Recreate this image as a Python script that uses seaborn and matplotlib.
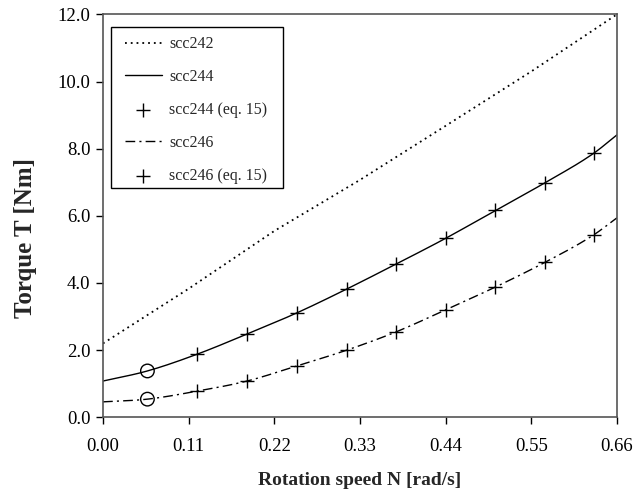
import matplotlib
matplotlib.use("Agg")
import matplotlib.pyplot as plt
import matplotlib.patches as mpatches
import seaborn as sns
import pandas as pd
import numpy as np

# ---- data ----
x_242 = [0.0, 0.11, 0.22, 0.33, 0.44, 0.55, 0.66]
y_242 = [2.2, 3.83, 5.55, 7.07, 8.68, 10.30, 12.0]

x_eq = [0.121, 0.185, 0.249, 0.313, 0.376, 0.440, 0.504, 0.568, 0.630]
y_244_eq = [1.88, 2.48, 3.11, 3.82, 4.56, 5.33, 6.16, 6.99, 7.86]
y_246_eq = [0.78, 1.08, 1.53, 2.00, 2.54, 3.20, 3.88, 4.62, 5.43]

x_circ = [0.057]
y_244_circ = [1.38]
y_246_circ = [0.54]

x_curve = [0.0, 0.057] + x_eq + [0.66]
y_244_curve = [1.08, 1.38] + y_244_eq + [8.41]
y_246_curve = [0.46, 0.54] + y_246_eq + [5.94]

x_ticks = [0.00, 0.11, 0.22, 0.33, 0.44, 0.55, 0.66]
y_ticks = [0.0, 2.0, 4.0, 6.0, 8.0, 10.0, 12.0]

# ---- style ----
sns.set_style("ticks")
plt.rcParams['font.family'] = ['Liberation Serif', 'DejaVu Serif']

fig = plt.figure(figsize=(6.44, 4.95), dpi=100)
ax = fig.add_axes([0.16, 0.157, 0.798, 0.814])

def smooth(xs, ys, n=200):
    xs = np.asarray(xs); ys = np.asarray(ys)
    xx = np.linspace(xs.min(), xs.max(), n)
    h = np.diff(xs); d = np.diff(ys) / h
    m = np.zeros_like(ys)
    m[1:-1] = (d[:-1] + d[1:]) / 2
    m[0] = d[0]; m[-1] = d[-1]
    idx = np.clip(np.searchsorted(xs, xx) - 1, 0, len(xs) - 2)
    t = (xx - xs[idx]) / h[idx]
    h00 = 2*t**3 - 3*t**2 + 1; h10 = t**3 - 2*t**2 + t
    h01 = -2*t**3 + 3*t**2; h11 = t**3 - t**2
    yy = h00*ys[idx] + h10*h[idx]*m[idx] + h01*ys[idx+1] + h11*h[idx]*m[idx+1]
    return xx, yy

lw = 1.0
df242 = pd.DataFrame({"x": x_242, "y": y_242})
sns.lineplot(data=df242, x="x", y="y", ax=ax, color="black", lw=1.3,
             linestyle=(0, (1, 2.2)), label="scc242", sort=True)

sx, sy = smooth(x_curve, y_244_curve)
sns.lineplot(x=sx, y=sy, ax=ax, color="black", lw=lw, label="scc244", sort=True)
sns.scatterplot(x=x_eq, y=y_244_eq, ax=ax, marker="+", s=110, color="black",
                linewidth=1.0, label="scc244 (eq. 15)")

sx, sy = smooth(x_curve, y_246_curve)
sns.lineplot(x=sx, y=sy, ax=ax, color="black", lw=lw,
             linestyle=(0, (7, 3, 1.5, 3)), label="scc246", sort=True)
sns.scatterplot(x=x_eq, y=y_246_eq, ax=ax, marker="+", s=110, color="black",
                linewidth=1.0, label="scc246 (eq. 15)")

for yc in (y_244_circ, y_246_circ):
    ax.scatter(x_circ, yc, s=95, facecolors="none", edgecolors="black",
               linewidths=1.0, zorder=5)

ax.set_xlim(0, 0.66)
ax.set_ylim(0, 12)
ax.set_xticks(x_ticks)
ax.set_xticklabels([f"{v:.2f}" for v in x_ticks])
ax.set_yticks(y_ticks)
ax.set_yticklabels([f"{v:.1f}" for v in y_ticks])
ax.tick_params(axis="both", direction="out", length=5, width=1, labelsize=13.5,
               colors="black")
ax.tick_params(axis="x", pad=10)
ax.tick_params(axis="y", pad=4)
for s in ax.spines.values():
    s.set_visible(True)
    s.set_color("#555555")
    s.set_linewidth(1.2)

ax.set_xlabel("Rotation speed N [rad/s]", fontsize=14, fontweight="bold", labelpad=12)
ax.set_ylabel("Torque T [Nm]", fontsize=18, fontweight="bold")
ax.yaxis.set_label_coords(-0.128, 0.445)

# legend (frameless) + its own frame box
leg = ax.legend(loc="upper left", bbox_to_anchor=(0.0428, 0.946), fontsize=11.5,
                frameon=False, handlelength=2.3, labelspacing=1.06, borderpad=0,
                handletextpad=0.45, borderaxespad=0)
ax.add_patch(mpatches.Rectangle((0.0155, 0.569), 0.3345, 0.400,
                                transform=ax.transAxes, fill=False,
                                edgecolor="black", lw=1.0, zorder=6))

fig.savefig("out.png", dpi=100)
